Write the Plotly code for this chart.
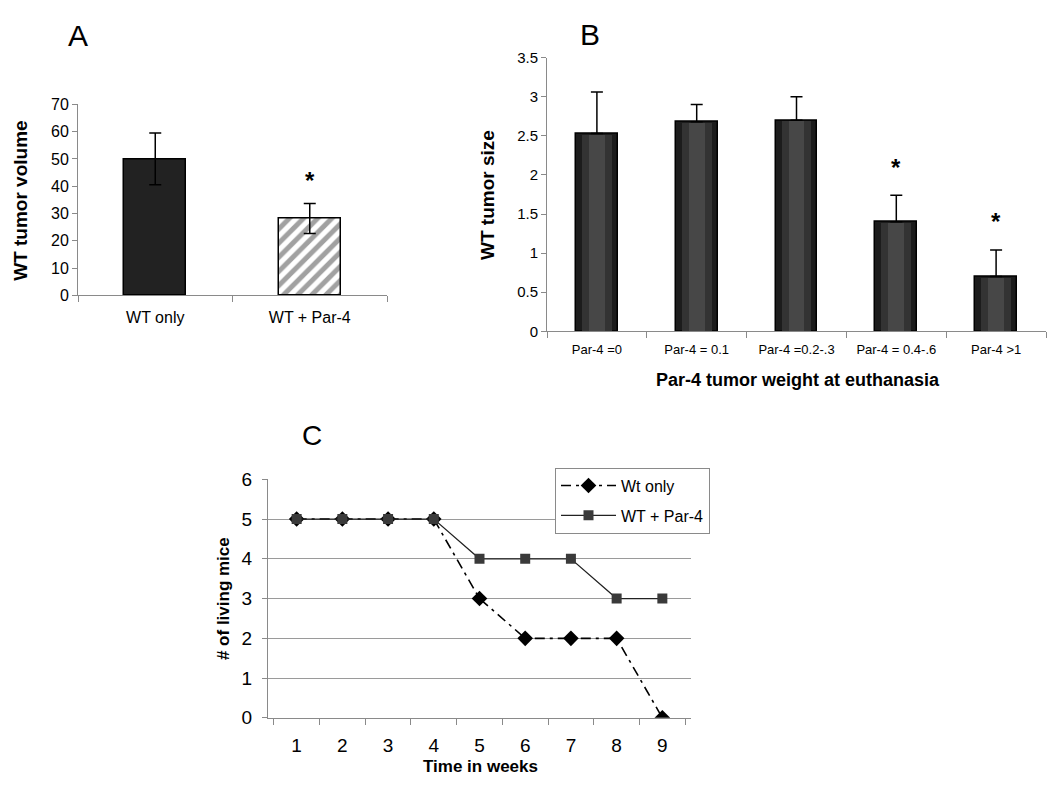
import plotly.graph_objects as go

# panel A
a_groups = ["WT only", "WT + Par-4"]
a_volume = [50, 28.2]
a_err = [9.5, 5.5]

# panel B
b_groups = ["Par-4 =0", "Par-4 = 0.1", "Par-4 =0.2-.3", "Par-4 = 0.4-.6", "Par-4 >1"]
b_size = [2.53, 2.68, 2.70, 1.40, 0.70]
b_err = [0.53, 0.22, 0.30, 0.34, 0.34]

# panel C
weeks = ["1", "2", "3", "4", "5", "6", "7", "8", "9"]
wt_only = [5, 5, 5, 5, 3, 2, 2, 2, 0]
wt_par4 = [5, 5, 5, 5, 4, 4, 4, 3, 3]

# significance marks (group, height)
a_stars = [("WT + Par-4", 42)]
b_stars = [("Par-4 = 0.4-.6", 2.09), ("Par-4 >1", 1.40)]

FONT = "Liberation Sans, Arial, sans-serif"
NARROW = "Liberation Sans Narrow, Arial Narrow, Liberation Sans, sans-serif"
W, H = 1050, 797

fig = go.Figure()

fig.add_trace(go.Bar(
    x=a_groups, y=a_volume, width=0.40,
    marker=dict(color=["#222222", "white"],
                line=dict(color="black", width=1.5),
                pattern=dict(shape=["", "/"], fgcolor="black", bgcolor="white",
                             size=10, solidity=0.5)),
    error_y=dict(type="data", array=a_err, color="black", thickness=1.5, width=6),
    xaxis="x", yaxis="y", showlegend=False))

# B bars: layered to mimic the shaded look
fig.add_trace(go.Bar(
    x=b_groups, y=b_size, width=0.42,
    marker=dict(color="#1c1c1c", line=dict(color="black", width=1.5)),
    error_y=dict(type="data", symmetric=False, array=b_err, arrayminus=[0] * 5,
                 color="black", thickness=1.5, width=6),
    xaxis="x2", yaxis="y2", showlegend=False))
fig.add_trace(go.Bar(x=b_groups, y=[v - 0.01 for v in b_size], width=0.30,
                     marker=dict(color="#333333", line=dict(width=0)),
                     xaxis="x2", yaxis="y2", showlegend=False))
fig.add_trace(go.Bar(x=b_groups, y=[v - 0.01 for v in b_size], width=0.16,
                     marker=dict(color="#474747", line=dict(width=0)),
                     xaxis="x2", yaxis="y2", showlegend=False))

fig.add_trace(go.Scatter(
    x=weeks, y=wt_only, mode="lines+markers", name="Wt only", legendgroup="a",
    line=dict(color="black", width=1.6, dash="10px,5px,3px,5px"),
    marker=dict(symbol="diamond", size=12, color="black"),
    xaxis="x3", yaxis="y3"))
fig.add_trace(go.Scatter(
    x=weeks, y=wt_par4, mode="lines+markers", name="WT + Par-4", legendgroup="b",
    line=dict(color="#222222", width=1.2),
    marker=dict(symbol="square", size=10, color="#3a3a3a"),
    xaxis="x3", yaxis="y3"))


def px_x(a, b):
    return [a / W, b / W]


def px_y(top, bottom):
    return [1 - bottom / H, 1 - top / H]


grey = "#8a8a8a"
xcat = dict(type="category", tickson="boundaries", ticks="outside", ticklen=6,
            tickcolor=grey, showline=True, linecolor=grey, linewidth=1,
            showgrid=False, zeroline=False)
ylin = dict(ticks="outside", ticklen=5, tickcolor=grey, showline=True,
            linecolor=grey, linewidth=1, zeroline=False, showgrid=False)

annotations = [
    dict(text="A", x=78 / W, y=1 - 26 / H, font=dict(size=30)),
    dict(text="B", x=590 / W, y=1 - 25 / H, font=dict(size=30)),
    dict(text="C", x=312 / W, y=1 - 437 / H, font=dict(size=28)),
    dict(text="<b>WT tumor volume</b>", x=21 / W, y=1 - 196 / H, textangle=-90,
         font=dict(size=19)),
    dict(text="<b>WT tumor size</b>", x=488 / W, y=1 - 190 / H, textangle=-90,
         font=dict(size=19)),
    dict(text="<b>Par-4 tumor weight at euthanasia</b>", x=798 / W, y=1 - 380 / H,
         font=dict(size=18)),
    dict(text="<b># of living mice</b>", x=223 / W, y=1 - 605 / H, textangle=-90,
         font=dict(size=17, family=NARROW)),
    dict(text="<b>Time in weeks</b>", x=480 / W, y=1 - 777 / H,
         font=dict(size=17, family=NARROW)),
]
for a in annotations:
    a.update(xref="paper", yref="paper", showarrow=False,
             xanchor="center", yanchor="middle")
for g, v in a_stars:
    annotations.append(dict(text="<b>*</b>", x=g, y=v, xref="x", yref="y",
                            showarrow=False, font=dict(size=24), yanchor="middle"))
for g, v in b_stars:
    annotations.append(dict(text="<b>*</b>", x=g, y=v, xref="x2", yref="y2",
                            showarrow=False, font=dict(size=24), yanchor="middle"))

fig.update_layout(
    width=W, height=H,
    margin=dict(l=0, r=0, t=0, b=0),
    paper_bgcolor="white", plot_bgcolor="white",
    font=dict(family=FONT, color="black", size=14),
    barmode="overlay", bargap=0,
    xaxis=dict(xcat, domain=px_x(78, 387), anchor="y", ticklabelstandoff=8,
               tickfont=dict(size=16)),
    yaxis=dict(ylin, domain=px_y(97, 293), anchor="x", range=[0, 70],
               tick0=0, dtick=10, tickfont=dict(size=16)),
    xaxis2=dict(xcat, domain=px_x(547, 1046), anchor="y2", ticklabelstandoff=6,
                tickfont=dict(size=13)),
    yaxis2=dict(ylin, domain=px_y(49, 330), anchor="x2", range=[0, 3.5],
                tick0=0, dtick=0.5, tickfont=dict(size=15)),
    xaxis3=dict(xcat, domain=px_x(268, 691), anchor="y3", ticklabelstandoff=10,
                tickfont=dict(size=19, family=NARROW)),
    yaxis3=dict(ylin, domain=px_y(482, 727), anchor="x3", range=[0, 6],
                tick0=0, dtick=1, showgrid=True, gridcolor="#9a9a9a", gridwidth=1,
                ticklabelstandoff=6, tickfont=dict(size=19, family=NARROW)),
    legend=dict(x=555 / W, y=1 - 470 / H, xanchor="left", yanchor="top",
                bgcolor="white", bordercolor=grey, borderwidth=1, itemwidth=55,
                font=dict(size=16, family=NARROW), tracegroupgap=6),
    annotations=annotations,
)

# drop the page's default body margin so the figure sits at the window origin
fig.write_html("out.html", config={"displayModeBar": False},
               post_script="document.body.style.margin='0px';")
